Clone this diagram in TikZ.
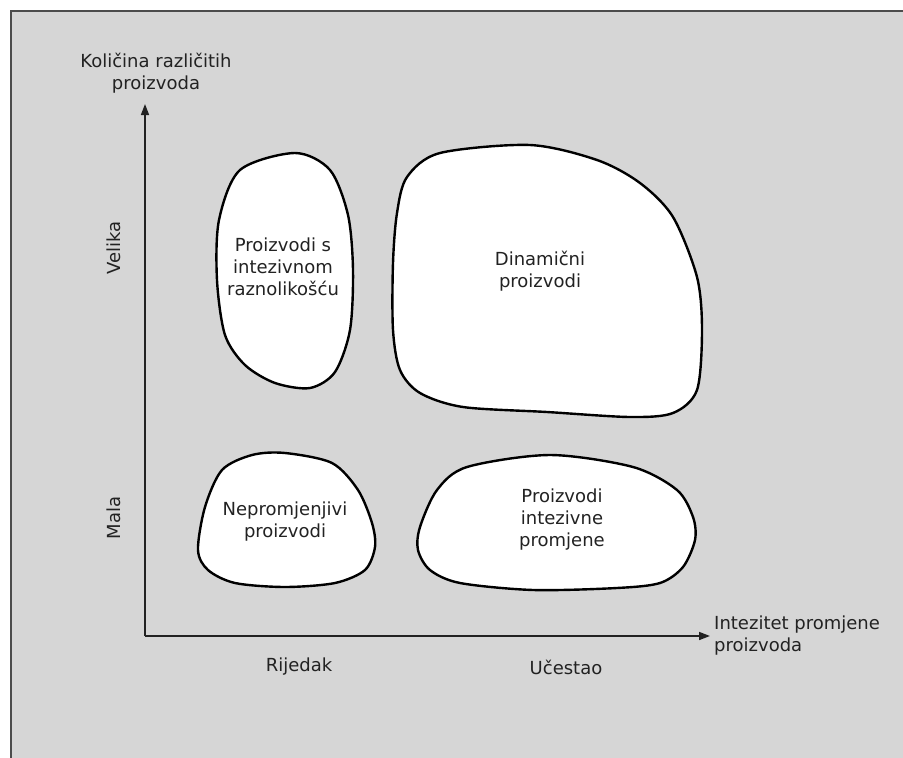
\documentclass[tikz,border=0pt]{standalone}
\usepackage{fontspec}
\setmainfont{DejaVu Sans}
\usetikzlibrary{arrows.meta}
\definecolor{panelgray}{RGB}{214,214,214}
\definecolor{inkgray}{RGB}{34,34,34}
\begin{document}
\begin{tikzpicture}[x=1pt, y=-1pt,
        blob/.style={draw=black, fill=white, line width=2.4pt, line join=round},
        label/.style={font=\fontsize{18}{22}\selectfont, text=inkgray,
                      align=center, inner sep=0pt},
        axis/.style={draw=inkgray, line width=1.6pt,
                     -{Triangle[length=11pt, width=8pt]}}
    ]
    \useasboundingbox (0,0) rectangle (903,758);

    % panel with its frame
    \fill[panelgray] (11,11) rectangle (903,758);
    \draw[black!70, line width=1.5pt] (11,758) -- (11,11) -- (903,11);

    % axes
    \coordinate (origin) at (145,636);
    \coordinate (ytip) at (145,104);
    \coordinate (xtip) at (710,636);
    \draw[axis] (origin) -- (ytip);
    \draw[axis] (origin) -- (xtip);

    \node[label] (ylabel) at (156,73) {Količina različitih\\proizvoda};
    \node[label, anchor=west, align=left] (xlabel) at (714,636) {Intezitet promjene\\proizvoda};
    \node[label, rotate=90] (velika) at (114,248) {Velika};
    \node[label, rotate=90] (mala) at (114,518) {Mala};
    \node[label] (rijedak) at (299,667) {Rijedak};
    \node[label] (ucestao) at (566,667) {Učestao};

    % the four groups
    \draw[blob] plot[smooth cycle] coordinates {(295,153) (330,170) (348,215) (353,270)
        (350,330) (335,372) (310,388) (275,383) (245,365) (225,335) (217,280)
        (219,220) (240,170)};
    \draw[blob] plot[smooth cycle] coordinates {(530,145) (597,160) (640,183) (673,217)
        (697,277) (702,330) (697,390) (673,413) (630,417) (547,412) (463,407)
        (420,393) (400,370) (393,330) (393,263) (397,213) (407,177) (440,153)};
    \draw[blob] plot[smooth cycle] coordinates {(285,453) (332,463) (358,490) (372,523)
        (375,547) (365,570) (335,583) (285,587) (235,583) (208,570) (198,550)
        (205,507) (222,470) (252,455)};
    \draw[blob] plot[smooth cycle] coordinates {(550,455) (633,467) (677,490) (693,517)
        (695,540) (683,567) (660,583) (617,588) (533,590) (460,583) (430,570)
        (418,550) (420,527) (437,490) (467,467)};

    \node[label] (raznolikost) at (283,267) {Proizvodi s\\intezivnom\\raznolikošću};
    \node[label] (dinamicni) at (540,271) {Dinamični\\proizvodi};
    \node[label] (nepromjenjivi) at (285,522) {Nepromjenjivi\\proizvodi};
    \node[label] (promjene) at (562,520) {Proizvodi\\intezivne\\promjene};

\end{tikzpicture}
\end{document}
